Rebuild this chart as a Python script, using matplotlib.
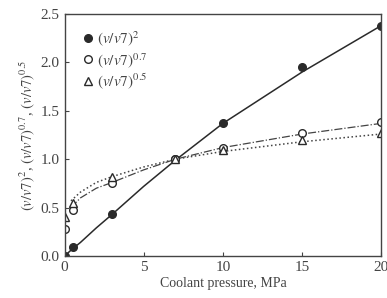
import numpy as np
import matplotlib
matplotlib.use('Agg')
import matplotlib.pyplot as plt

plt.rcParams['font.family'] = ['Liberation Serif', 'DejaVu Serif']
plt.rcParams['mathtext.fontset'] = 'stix'

# measured points
pressure = [0, 0.5, 3, 7, 10, 15, 20]
ratio_sq = [0.0, 0.09, 0.43, 1.0, 1.37, 1.95, 2.38]
ratio_07 = [0.28, 0.47, 0.75, 1.0, 1.12, 1.27, 1.38]
ratio_05 = [0.40, 0.55, 0.82, 1.0, 1.10, 1.20, 1.27]

# fitted curves
fit_x = [0, 0.4, 1, 2, 3, 5, 7, 10, 15, 20]
fit_sq = [0.0, 0.06, 0.14, 0.29, 0.43, 0.72, 0.99, 1.37, 1.90, 2.38]
fit_x2 = [0.4, 1, 2, 3, 5, 7, 10, 15, 20]
fit_07 = [0.50, 0.60, 0.70, 0.76, 0.89, 1.0, 1.12, 1.26, 1.37]
fit_05 = [0.57, 0.66, 0.76, 0.82, 0.92, 1.0, 1.08, 1.18, 1.26]

col = '#2a2a2a'
fig = plt.figure(figsize=(3.87, 2.98), dpi=100)
ax = fig.add_axes([0.167, 0.141, 0.818, 0.812])

ax.plot(fit_x, fit_sq, '-', color=col, lw=1.1)
ax.plot(fit_x2, fit_07, '-.', color='#444444', lw=0.9)
ax.plot(fit_x2, fit_05, ':', color='#444444', lw=1.1)

ax.plot(pressure, ratio_sq, 'o', ms=5.5, color=col, mfc=col, label=r'$(v/v7)^2$')
ax.plot(pressure, ratio_07, 'o', ms=5.5, color=col, mfc='white', mew=1.0, label=r'$(v/v7)^{0.7}$')
ax.plot(pressure, ratio_05, '^', ms=5.5, color=col, mfc='white', mew=1.0, label=r'$(v/v7)^{0.5}$')

ax.set_xlim(0, 20)
ax.set_ylim(0, 2.5)
ax.set_xticks([0, 5, 10, 15, 20])
ax.set_yticks([0.0, 0.5, 1.0, 1.5, 2.0, 2.5])
ax.set_yticklabels(['0.0', '0.5', '1.0', '1.5', '2.0', '2.5'])
ax.tick_params(direction='in', length=3, labelsize=11, colors='#444444')
for s in ax.spines.values():
    s.set_color('#444444')
    s.set_linewidth(1.0)

ax.set_xlabel('Coolant pressure, MPa', fontsize=10, color='#444444', labelpad=2)
ax.set_ylabel(r'$(v/v7)^2$, $(v/v7)^{0.7}$, $(v/v7)^{0.5}$', fontsize=10.5, color='#444444', labelpad=3)

ax.legend(loc='upper left', frameon=False, fontsize=11, handletextpad=0.1,
          handlelength=1.0, labelspacing=0.15, borderaxespad=0.6, labelcolor='#444444')

fig.savefig('out.png', dpi=100)
